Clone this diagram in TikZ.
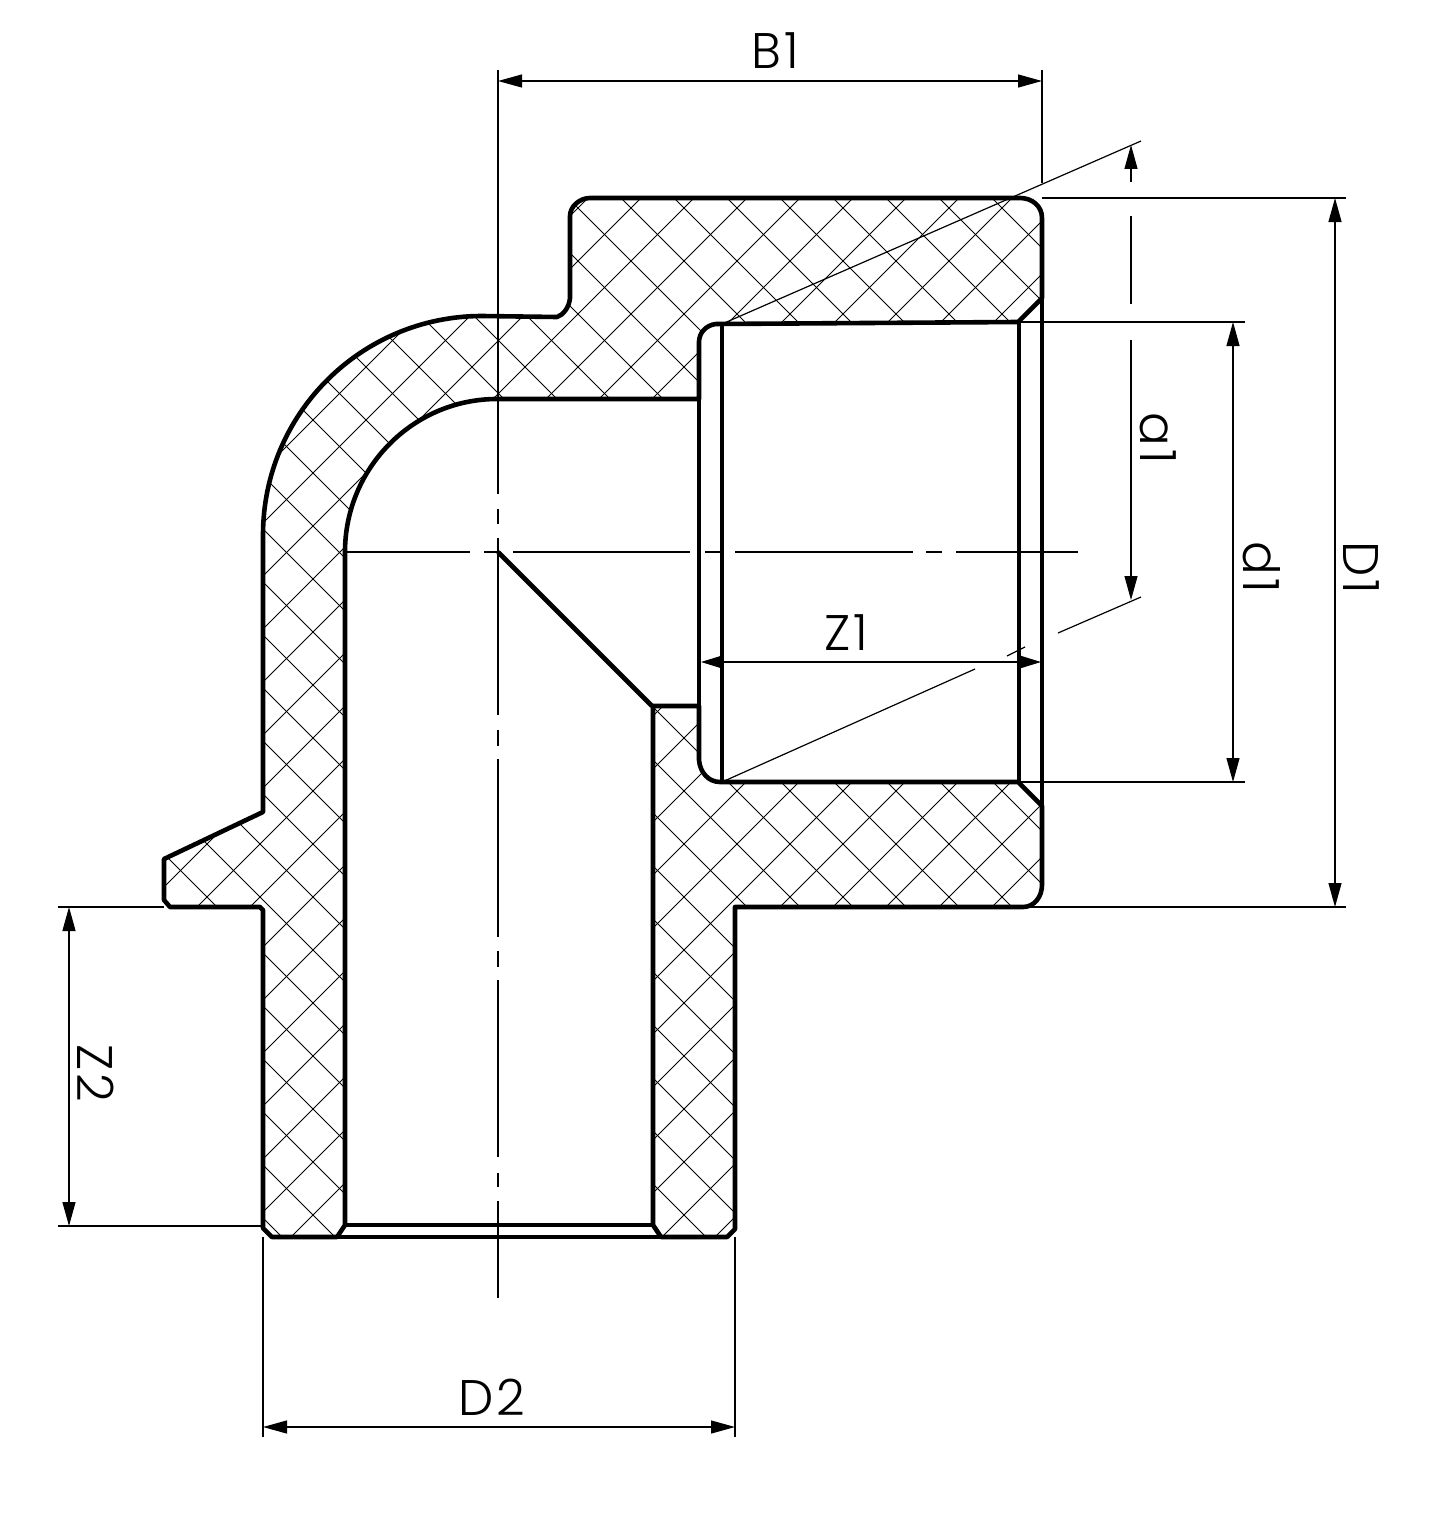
\documentclass[tikz,border=0pt]{standalone}
\usepackage{fontspec}
\setmainfont[LetterSpace=6]{Poppins Light}
\usepackage{tikz}
\usetikzlibrary{arrows.meta}

% wall outlines, in pixels of the drawing
\newcommand{\upperwall}{(263,1228) -- (263,910) -- (260,907) -- (170,907) -- (164,900) -- (164,859) -- (263,812) -- (263,535)
    .. controls (263,414) and (361,316) .. (482,316) -- (557,317) .. controls (563,315) and (569,308) .. (570,298)
    -- (570,216) .. controls (570,206) and (580,198) .. (590,198) -- (1020,198) .. controls (1032,198) and (1042,206) .. (1042,218)
    -- (1042,298) -- (1018,322) -- (716,324) .. controls (706,325) and (699,333) .. (699,342) -- (699,399) -- (497,399)
    .. controls (413,399) and (345,468) .. (345,552) -- (345,1225) -- (337,1237) -- (272,1237) -- cycle}
\newcommand{\lowerwall}{(653,706) -- (699,706) -- (699,760) .. controls (700,772) and (708,782) .. (720,782) -- (1018,782)
    -- (1042,806) -- (1042,885) .. controls (1042,897) and (1034,907) .. (1023,907) -- (735,907) -- (735,1229) -- (727,1237)
    -- (661,1237) -- (653,1225) -- cycle}
\newcommand{\hatchlines}{%
    \foreach \k in {-32,...,45} {
        \draw[hatchline] ({158+53*\k},0) -- ({158+53*\k+1533},1533);
        \draw[hatchline] ({839+53*\k},0) -- ({839+53*\k-1533},1533);
    }}

\begin{document}
\begin{tikzpicture}[
    x=1pt, y=-1pt,
    wall/.style={line width=4.6pt, line join=round},
    hatchline/.style={line width=0.9pt},
    thinline/.style={line width=1.2pt},
    centerline/.style={line width=2pt},
    dimarrow/.style={thinline, <->, >={Triangle[length=24pt, width=13pt]}},
    tipend/.style={thinline, ->, >={Triangle[length=24pt, width=13pt]}},
    shortarrow/.style={thinline, <->, >={Triangle[length=20pt, width=12pt]}},
    dimlabel/.style={font=\fontsize{50}{50}\selectfont, inner sep=0pt}
]
    \useasboundingbox (0,0) rectangle (1444,1533);

    % Hatching of both walls
    \begin{scope}
        \clip \upperwall;
        \hatchlines
    \end{scope}
    \begin{scope}
        \clip \lowerwall;
        \hatchlines
    \end{scope}

    % Taper lines (under the walls)
    \draw[thinline] (722,324) -- (1141,141);
    \draw[thinline] (722,782) -- (975,669);
    \draw[thinline] (1007,656) -- (1025,647);
    \draw[thinline] (1058,633) -- (1141,597);

    % Walls and bore
    \draw[wall] \upperwall;
    \draw[wall] \lowerwall;
    \draw[wall] (722,324) -- (722,782);
    \draw[wall] (1019,322) -- (1019,782);
    \draw[wall] (1042,298) -- (1042,806);
    \draw[wall] (699,342) -- (699,760);
    \draw[wall] (345,1225) -- (653,1225);
    \draw[wall] (337,1237) -- (661,1237);
    \draw[wall] (498,552) -- (652,706);

    % Centre lines
    \draw[centerline] (498,70) -- (498,494) (498,509) -- (498,524) (498,538) -- (498,715) (498,730) -- (498,746)
        (498,759) -- (498,937) (498,951) -- (498,967) (498,980) -- (498,1157) (498,1173) -- (498,1187) (498,1201) -- (498,1298);
    \draw[centerline] (345,552) -- (470,552) (484,552) -- (498,552) (513,552) -- (690,552) (705,552) -- (722,552)
        (735,552) -- (913,552) (926,552) -- (942,552) (956,552) -- (1078,552);

    % Extension lines
    \draw[thinline] (1042,70) -- (1042,183);
    \draw[thinline] (1042,198) -- (1346,198);
    \draw[thinline] (1030,907) -- (1346,907);
    \draw[thinline] (1018,322) -- (1245,322);
    \draw[thinline] (1018,782) -- (1245,782);
    \draw[thinline] (58,907) -- (164,907);
    \draw[thinline] (58,1226) -- (263,1226);
    \draw[thinline] (263,1237) -- (263,1437);
    \draw[thinline] (735,1237) -- (735,1437);

    % Dimensions
    \draw[dimarrow] (498,81) -- (1042,81);
    \draw[dimarrow] (1335,198) -- (1335,907);
    \draw[dimarrow] (1233,322) -- (1233,782);
    \draw[dimarrow] (69,907) -- (69,1226);
    \draw[dimarrow] (263,1427) -- (735,1427);
    \draw[shortarrow] (701,662) -- (1041,662);
    \draw[tipend] (1131,182) -- (1131,145);
    \draw[thinline] (1131,216) -- (1131,304);
    \draw[tipend] (1131,340) -- (1131,600);

    % Labels
    \node[dimlabel] (b1) at (775,51) {B1};
    \node[dimlabel] (d2) at (492,1397) {D2};
    \node[dimlabel] (z1) at (846,633) {Z1};
    \node[dimlabel, rotate=-90] (z2) at (96,1073) {Z2};
    \node[dimlabel, rotate=-90] (a1) at (1158,438) {a1};
    \node[dimlabel, rotate=-90] (d1) at (1262,567) {d1};
    \node[dimlabel, rotate=-90] (bigd1) at (1361,568) {D1};
\end{tikzpicture}
\end{document}
